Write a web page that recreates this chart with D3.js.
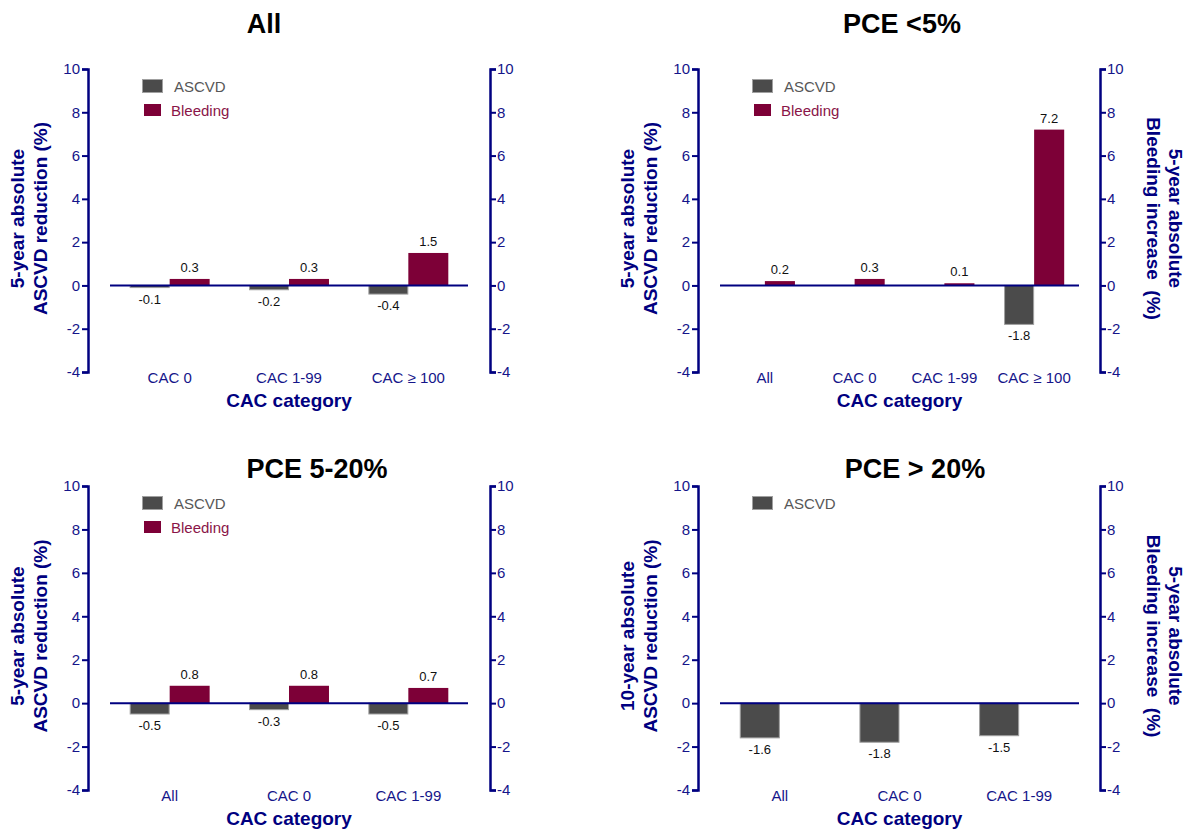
<!DOCTYPE html>
<html>
<head>
<meta charset="utf-8">
<script src="https://cdn.jsdelivr.net/npm/d3@7"></script>
<style>
  html, body { margin: 0; padding: 0; background: #fff; }
  svg { display: block; font-family: Arial, "Liberation Sans", Helvetica, sans-serif; }
</style>
</head>
<body>
<svg id="chart" width="1192" height="833"></svg>
<script>
// ---------------- data ----------------
const panelTitles = ["All", "PCE <5%", "PCE 5-20%", "PCE > 20%"];

const catsAll  = ["CAC 0", "CAC 1-99", "CAC \u2265 100"];
const ascvdAll = [-0.1, -0.2, -0.4];
const bleedAll = [0.3, 0.3, 1.5];

const catsLow  = ["All", "CAC 0", "CAC 1-99", "CAC \u2265 100"];
const ascvdLow = [null, null, null, -1.8];
const bleedLow = [0.2, 0.3, 0.1, 7.2];

const catsMid  = ["All", "CAC 0", "CAC 1-99"];
const ascvdMid = [-0.5, -0.3, -0.5];
const bleedMid = [0.8, 0.8, 0.7];

const catsHigh  = ["All", "CAC 0", "CAC 1-99"];
const ascvdHigh = [-1.6, -1.8, -1.5];
const bleedHigh = null;

const seriesNames = ["ASCVD", "Bleeding"];
const yTicks = [-4, -2, 0, 2, 4, 6, 8, 10];
const leftTitles = [
  ["5-year absolute", "ASCVD reduction (%)"],
  ["5-year absolute", "ASCVD reduction (%)"],
  ["5-year absolute", "ASCVD reduction (%)"],
  ["10-year absolute", "ASCVD reduction (%)"]
];
const rightTitleLines = ["5-year absolute", "Bleeding increase  (%)"];
const xAxisTitle = "CAC category";

// ---------------- layout / style ----------------
const NAVY = "#000080";
const TICKCOL = "#15158a";
const colASCVD = "#4b4b4b";
const colBleed = "#7d0037";

const panels = [
  { title: panelTitles[0], cats: catsAll,  ascvd: ascvdAll,  bleed: bleedAll,  lt: leftTitles[0],
    axisL: 88,  axisR: 490,  x0: 110, x1: 468,  yTop: 69,  yBot: 372, tx: 264, ty: 33,  rTitle: false },
  { title: panelTitles[1], cats: catsLow,  ascvd: ascvdLow,  bleed: bleedLow,  lt: leftTitles[1],
    axisL: 698, axisR: 1100, x0: 720, x1: 1079, yTop: 69,  yBot: 372, tx: 902, ty: 33,  rTitle: true },
  { title: panelTitles[2], cats: catsMid,  ascvd: ascvdMid,  bleed: bleedMid,  lt: leftTitles[2],
    axisL: 88,  axisR: 490,  x0: 110, x1: 468,  yTop: 486, yBot: 790, tx: 317, ty: 478, rTitle: false },
  { title: panelTitles[3], cats: catsHigh, ascvd: ascvdHigh, bleed: bleedHigh, lt: leftTitles[3],
    axisL: 698, axisR: 1100, x0: 720, x1: 1079, yTop: 486, yBot: 790, tx: 915, ty: 478, rTitle: true }
];

const svg = d3.select("#chart");

panels.forEach(p => {
  const g = svg.append("g");
  const y = d3.scaleLinear().domain([-4, 10]).range([p.yBot, p.yTop]);
  const x = d3.scaleBand().domain(p.cats).range([p.x0, p.x1]).paddingInner(0.33).paddingOuter(0.165);
  const xs = d3.scaleBand().domain(seriesNames).range([0, x.bandwidth()]);

  // title
  g.append("text").attr("x", p.tx).attr("y", p.ty).attr("text-anchor", "middle")
    .attr("font-size", 27).attr("font-weight", "bold").attr("fill", "#000").text(p.title);

  // left axis
  const ax = g.append("g").attr("transform", `translate(${p.axisL},0)`)
    .call(d3.axisLeft(y).tickValues(yTicks).tickSize(6).tickPadding(2).tickFormat(d => String(d)));
  // right axis
  const axr = g.append("g").attr("transform", `translate(${p.axisR},0)`)
    .call(d3.axisRight(y).tickValues(yTicks).tickSize(6).tickPadding(1).tickFormat(d => String(d)));
  [ax, axr].forEach(a => {
    a.select(".domain").attr("stroke", NAVY).attr("stroke-width", 2.5);
    a.selectAll(".tick line").attr("stroke", NAVY).attr("stroke-width", 2);
    a.selectAll(".tick text").attr("fill", TICKCOL).attr("font-size", 15)
      .attr("font-family", "Arial, 'Liberation Sans', Helvetica, sans-serif");
  });

  // bars
  const rows = p.cats.map((c, i) => ({ c, i }));
  const series = [
    { name: "ASCVD", vals: p.ascvd, fill: colASCVD, stroke: "#a0a0a0" },
    { name: "Bleeding", vals: p.bleed, fill: colBleed, stroke: "none" }
  ];
  series.forEach(s => {
    if (!s.vals) return;
    const data = rows.filter(r => s.vals[r.i] !== null && s.vals[r.i] !== undefined)
      .map(r => ({ c: r.c, v: s.vals[r.i] }));
    g.selectAll(null).data(data).enter().append("rect")
      .attr("x", d => x(d.c) + xs(s.name) + (s.stroke !== "none" ? 0.5 : 0))
      .attr("width", xs.bandwidth() - (s.stroke !== "none" ? 1 : 0))
      .attr("y", d => Math.min(y(d.v), y(0)))
      .attr("height", d => Math.abs(y(d.v) - y(0)))
      .attr("fill", s.fill)
      .attr("stroke", s.stroke).attr("stroke-width", 1);
    g.selectAll(null).data(data).enter().append("text")
      .attr("x", d => x(d.c) + xs(s.name) + xs.bandwidth() / 2)
      .attr("y", d => d.v >= 0 ? y(d.v) - 7 : y(d.v) + 16)
      .attr("text-anchor", "middle").attr("font-size", 13).attr("fill", "#111")
      .text(d => d.v.toFixed(1));
  });

  // zero line
  g.append("line").attr("x1", p.x0).attr("x2", p.x1).attr("y1", y(0)).attr("y2", y(0))
    .attr("stroke", NAVY).attr("stroke-width", 2);

  // category labels
  g.selectAll(null).data(p.cats).enter().append("text")
    .attr("x", d => x(d) + x.bandwidth() / 2)
    .attr("y", p.yBot + 11)
    .attr("text-anchor", "middle").attr("font-size", 15).attr("fill", TICKCOL)
    .text(d => d);

  // x axis title
  g.append("text").attr("x", (p.x0 + p.x1) / 2).attr("y", p.yBot + 35)
    .attr("text-anchor", "middle").attr("font-size", 19).attr("font-weight", "bold")
    .attr("fill", NAVY).text(xAxisTitle);

  // left y title
  const cy = (p.yTop + p.yBot) / 2 - 2;
  p.lt.forEach((line, k) => {
    const bx = p.axisL - 64 + k * 23;
    g.append("text").attr("transform", `translate(${bx},${cy}) rotate(-90)`)
      .attr("text-anchor", "middle").attr("font-size", 19).attr("font-weight", "bold")
      .attr("fill", NAVY).text(line);
  });

  // right y title
  if (p.rTitle) {
    rightTitleLines.forEach((line, k) => {
      const bx = p.axisR + 69 - k * 22;
      g.append("text").attr("transform", `translate(${bx},${cy}) rotate(90)`)
        .attr("text-anchor", "middle").attr("font-size", 19).attr("font-weight", "bold")
        .attr("fill", NAVY).style("white-space", "pre").text(line);
    });
  }

  // legend
  const lx = p.axisL + 54;
  const ly = p.yTop + 10;
  g.append("rect").attr("x", lx + 0.5).attr("y", ly + 0.5).attr("width", 20).attr("height", 13)
    .attr("fill", colASCVD).attr("stroke", "#a0a0a0").attr("stroke-width", 1);
  g.append("text").attr("x", lx + 32).attr("y", ly + 13).attr("font-size", 15)
    .attr("fill", "#575757").text(seriesNames[0]);
  if (p.bleed) {
    g.append("rect").attr("x", lx + 2).attr("y", ly + 25).attr("width", 17).attr("height", 12)
      .attr("fill", colBleed);
    g.append("text").attr("x", lx + 29).attr("y", ly + 37).attr("font-size", 15)
      .attr("fill", "#8a1548").text(seriesNames[1]);
  }
});
</script>
</body>
</html>
